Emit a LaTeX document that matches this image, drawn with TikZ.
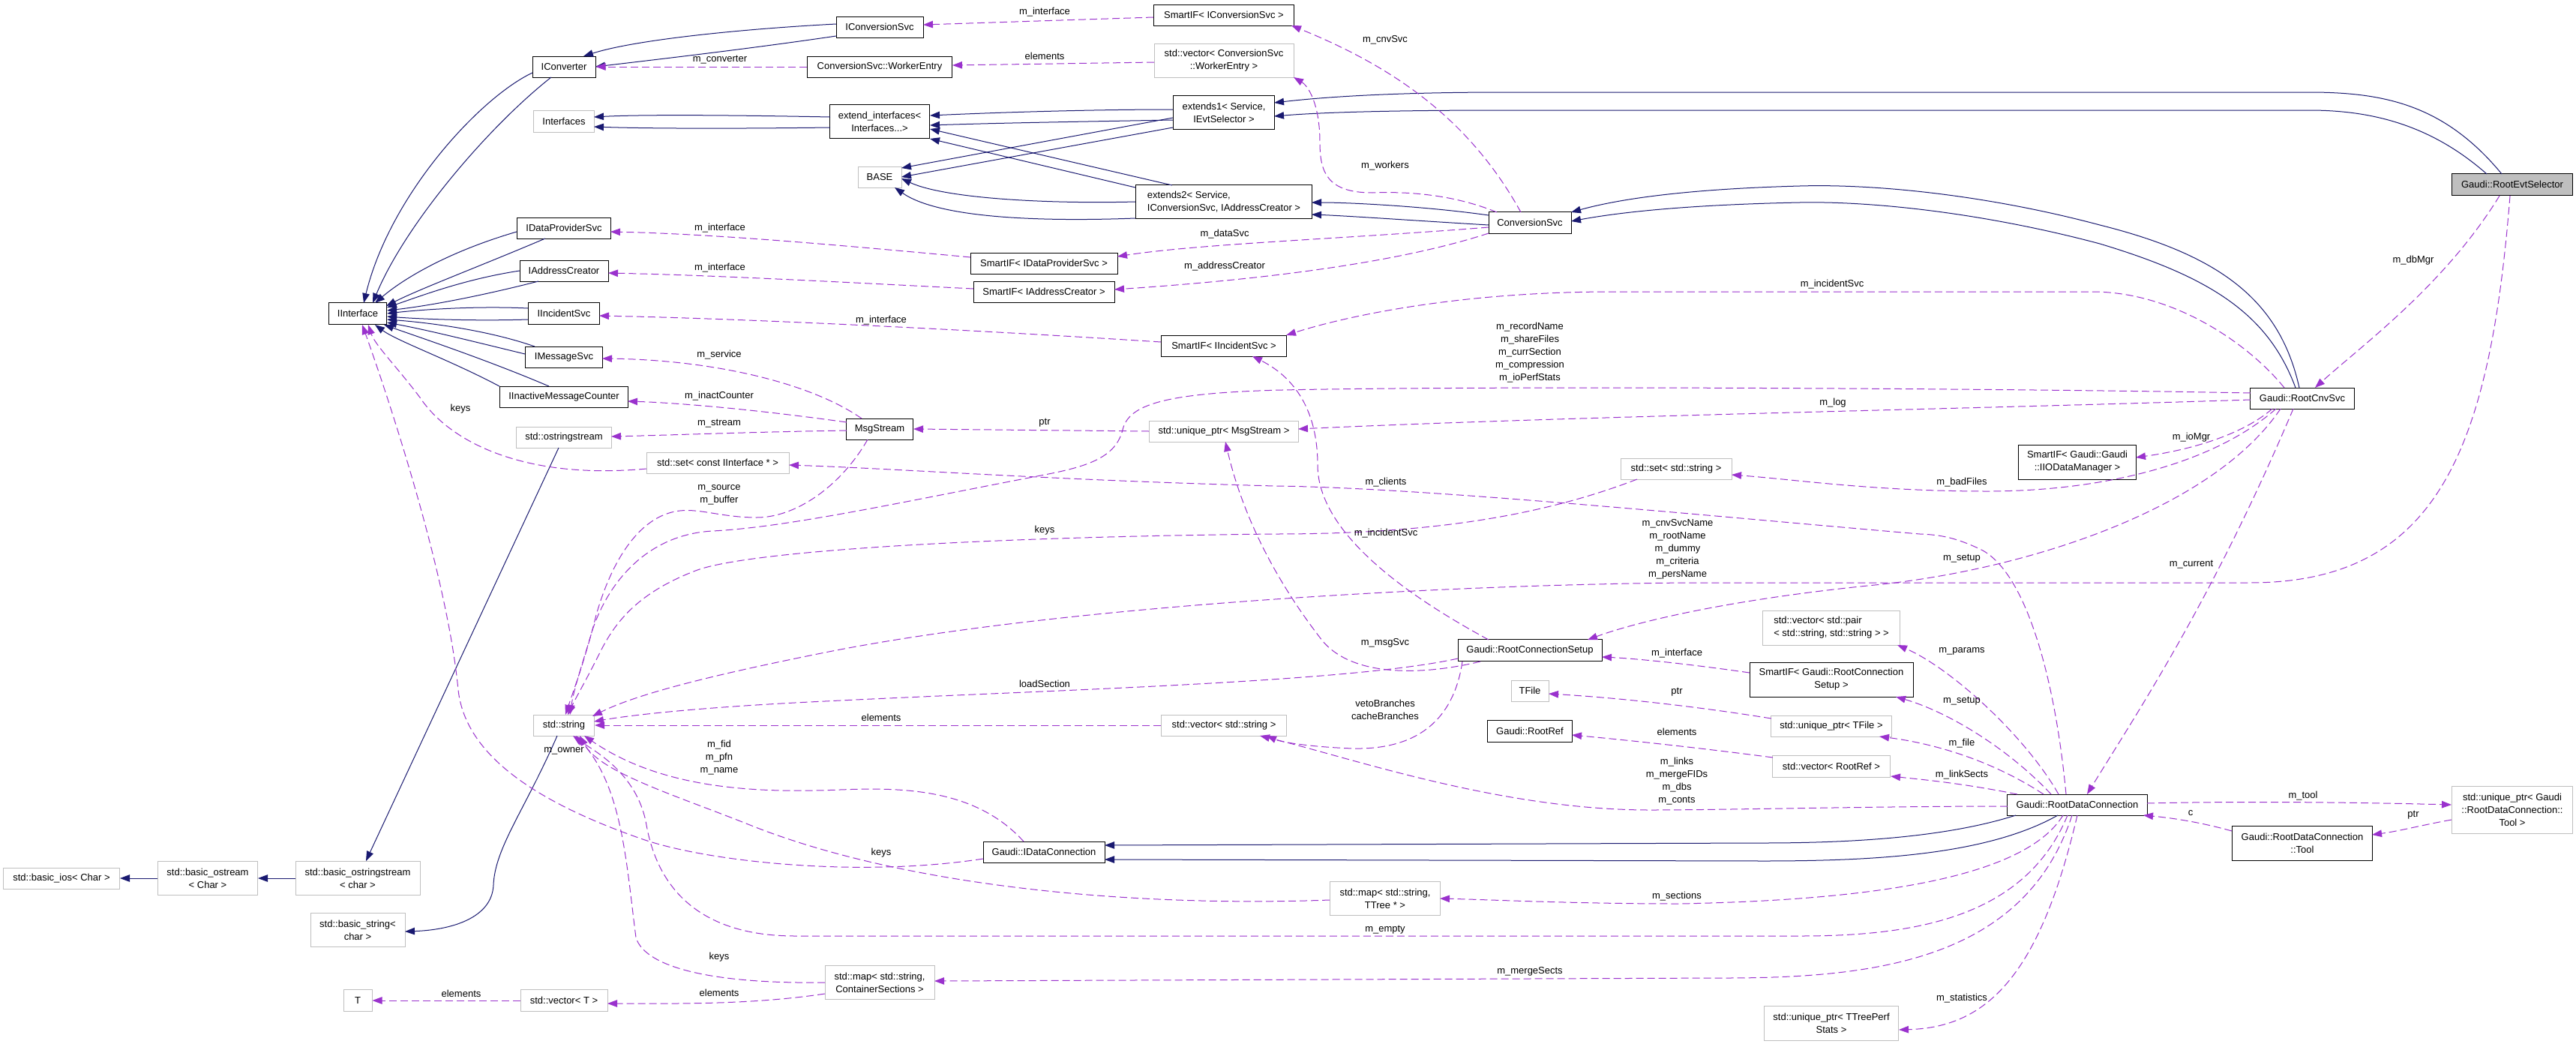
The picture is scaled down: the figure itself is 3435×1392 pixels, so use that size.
\documentclass[tikz,border=0pt]{standalone}
\usepackage{fontspec}
\setmainfont{Liberation Sans}
\usetikzlibrary{arrows.meta,calc}
\definecolor{inhc}{HTML}{191970}
\definecolor{usec}{HTML}{9A32CD}
\definecolor{greyb}{HTML}{BFBFBF}
\tikzset{
  every node/.style={font=\fontsize{13pt}{17pt}\selectfont},
  box/.style={draw=black, fill=white, line width=1pt, inner sep=0pt, align=center},
  gbox/.style={box, draw=greyb},
  mbox/.style={box, fill=greyb},
  sz/.style 2 args={minimum width=#1pt, minimum height=#2pt},
  lbl/.style={inner sep=0pt, align=center},
  inh/.style={draw=inhc, line width=1pt, -{Triangle[length=13pt,width=9.5pt]}},
  use/.style={draw=usec, line width=1pt, dash pattern=on 10pt off 5pt, -{Triangle[length=13pt,width=9.5pt]}}
}
\begin{document}
\begin{tikzpicture}[x=1pt,y=-1pt]
\path[fill=white,use as bounding box] (0,0) rectangle (3435,1392);
% ---------- nodes ----------
\node[mbox,sz={161}{29}] (evt) at (3350,246) {Gaudi::RootEvtSelector};
\node[box,sz={84}{28}] (conv1) at (752,89) {IConverter};
\node[gbox,sz={81}{29}] (ifaces) at (752,162) {Interfaces};
\node[box,sz={125}{28}] (idps) at (752,304) {IDataProviderSvc};
\node[box,sz={118}{28}] (iac) at (752,361) {IAddressCreator};
\node[box,sz={95}{29}] (iinc) at (752,418) {IIncidentSvc};
\node[box,sz={77}{29}] (iint) at (477,418) {IInterface};
\node[box,sz={103}{28}] (imsg) at (752,476) {IMessageSvc};
\node[box,sz={171}{28}] (iinact) at (752,529) {IInactiveMessageCounter};
\node[gbox,sz={127}{28}] (ostr) at (752,583) {std::ostringstream};
\node[box,sz={116}{28}] (iconvsvc) at (1173,36) {IConversionSvc};
\node[box,sz={193}{28}] (worker) at (1173,89) {ConversionSvc::WorkerEntry};
\node[box,sz={187}{28}] (smconv) at (1632,20) {SmartIF< IConversionSvc >};
\node[gbox,sz={186}{45}] (vecworker) at (1632,81) {std::vector< ConversionSvc\\::WorkerEntry >};
\node[box,sz={133}{45}] (extif) at (1173,162) {extend\_interfaces<\\Interfaces...>};
\node[box,sz={135}{45}] (ext1) at (1632,150) {extends1< Service,\\IEvtSelector >};
\node[gbox,sz={58}{28}] (base) at (1173,236) {BASE};
\node[box,sz={235}{45},align=left] (ext2) at (1632,269) {extends2< Service,\\ IConversionSvc, IAddressCreator >};
\node[box,sz={196}{28}] (smdps) at (1392,351) {SmartIF< IDataProviderSvc >};
\node[box,sz={188}{28}] (smac) at (1392,389) {SmartIF< IAddressCreator >};
\node[box,sz={167}{28}] (sminc) at (1632,461) {SmartIF< IIncidentSvc >};
\node[box,sz={110}{29}] (convsvc) at (2040,297) {ConversionSvc};
\node[box,sz={139}{28}] (cnvsvc) at (3070,531) {Gaudi::RootCnvSvc};
\node[box,sz={157}{46}] (smio) at (2770,616) {SmartIF< Gaudi::Gaudi\\::IIODataManager >};
\node[box,sz={89}{28}] (msg) at (1173,572) {MsgStream};
\node[gbox,sz={199}{28}] (upmsg) at (1632,575) {std::unique\_ptr< MsgStream >};
\node[gbox,sz={190}{28}] (setii) at (957,617) {std::set< const IInterface * >};
\node[gbox,sz={148}{28}] (setstr) at (2235,625) {std::set< std::string >};
\node[gbox,sz={183}{46},align=left] (vecpair) at (2442,837) {std::vector< std::pair\\< std::string, std::string > >};
\node[box,sz={192}{29}] (rcs) at (2040,867) {Gaudi::RootConnectionSetup};
\node[box,sz={218}{46}] (smrcs) at (2442,906) {SmartIF< Gaudi::RootConnection\\Setup >};
\node[gbox,sz={50}{28}] (tfile) at (2040,921) {TFile};
\node[gbox,sz={81}{28}] (str) at (752,967) {std::string};
\node[gbox,sz={155}{28}] (basicios) at (82,1171) {std::basic\_ios< Char >};
\node[gbox,sz={133}{45}] (basicostream) at (277,1171) {std::basic\_ostream\\< Char >};
\node[gbox,sz={166}{45}] (basicostrstr) at (477,1171) {std::basic\_ostringstream\\< char >};
\node[gbox,sz={126}{45}] (basicstr) at (477,1240) {std::basic\_string<\\char >};
\node[gbox,sz={38}{29}] (T) at (477,1334) {T};
\node[gbox,sz={116}{29}] (vecT) at (752,1334) {std::vector< T >};
\node[gbox,sz={167}{28}] (vecstr) at (1632,967) {std::vector< std::string >};
\node[box,sz={162}{28}] (idc) at (1392,1136) {Gaudi::IDataConnection};
\node[gbox,sz={146}{45}] (mapcs) at (1173,1310) {std::map< std::string,\\ContainerSections >};
\node[box,sz={113}{29}] (rootref) at (2040,975) {Gaudi::RootRef};
\node[gbox,sz={161}{28}] (uptfile) at (2442,968) {std::unique\_ptr< TFile >};
\node[gbox,sz={157}{29}] (vecrr) at (2442,1022) {std::vector< RootRef >};
\node[gbox,sz={147}{45}] (maptt) at (1847,1198) {std::map< std::string,\\TTree * >};
\node[gbox,sz={179}{46}] (uptts) at (2442,1364) {std::unique\_ptr< TTreePerf\\Stats >};
\node[box,sz={187}{28}] (rdc) at (2770,1073) {Gaudi::RootDataConnection};
\node[gbox,sz={161}{63}] (uptool) at (3350,1080) {std::unique\_ptr< Gaudi\\::RootDataConnection::\\Tool >};
\node[box,sz={187}{46}] (tool) at (3070,1124) {Gaudi::RootDataConnection\\::Tool};
% ---------- inheritance ----------
\draw[inh] ($(conv1.center)+(-42,8)$) .. controls (640,130) and (520,260) .. ($(iint.center)+(8,-14)$);
\draw[inh] ($(conv1.center)+(-17,14)$) .. controls (650,170) and (540,300) .. ($(iint.center)+(20,-14)$);
\draw[inh] ($(iconvsvc.center)+(-58,-4)$) .. controls (1000,38) and (850,52) .. ($(conv1.center)+(26,-14)$);
\draw[inh] ($(iconvsvc.center)+(-58,12)$) .. controls (1000,65) and (870,80) .. ($(conv1.center)+(42,0)$);
\draw[inh] ($(extif.center)+(-66,-6)$) .. controls (950,153) and (850,153) .. ($(ifaces.center)+(40,-6)$);
\draw[inh] ($(extif.center)+(-66,8)$) .. controls (950,172) and (850,171) .. ($(ifaces.center)+(40,7)$);
\draw[inh] ($(ext1.center)+(-68,-4)$) .. controls (1450,146) and (1330,150) .. ($(extif.center)+(67,-8)$);
\draw[inh] ($(ext1.center)+(-68,10)$) .. controls (1450,162) and (1330,164) .. ($(extif.center)+(67,5)$);
\draw[inh] ($(ext1.center)+(-68,7)$) -- ($(base.center)+(29,-12)$);
\draw[inh] ($(ext1.center)+(-68,20)$) -- ($(base.center)+(29,0)$);
\draw[inh] ($(ext2.center)+(-69,-22)$) -- ($(extif.center)+(67,10)$);
\draw[inh] ($(ext2.center)+(-118,-19)$) -- ($(extif.center)+(67,23)$);
\draw[inh] ($(ext2.center)+(-118,0)$) .. controls (1400,272) and (1260,265) .. ($(base.center)+(29,2)$);
\draw[inh] ($(ext2.center)+(-118,22)$) .. controls (1380,296) and (1250,290) .. ($(base.center)+(20,14)$);
\draw[inh] ($(evt.center)+(-14,-14)$) .. controls (3260,140) and (3180,123) .. (3079,123) -- (2007,123) .. controls (1850,123) and (1760,130) .. ($(ext1.center)+(67,-13)$);
\draw[inh] ($(evt.center)+(-34,-14)$) .. controls (3240,165) and (3160,147) .. (3079,147) -- (2007,147) .. controls (1850,147) and (1760,150) .. ($(ext1.center)+(67,5)$);
\draw[inh] ($(convsvc.center)+(-55,-10)$) .. controls (1900,275) and (1800,270) .. ($(ext2.center)+(117,1)$);
\draw[inh] ($(convsvc.center)+(-55,3)$) .. controls (1900,295) and (1800,288) .. ($(ext2.center)+(117,17)$);
\draw[inh] ($(cnvsvc.center)+(-4,-14)$) .. controls (3040,400) and (2960,340) .. (2800,300) .. controls (2650,260) and (2500,245) .. (2400,248) .. controls (2250,252) and (2160,265) .. ($(convsvc.center)+(55,-14)$);
\draw[inh] ($(cnvsvc.center)+(-9,-14)$) .. controls (3025,420) and (2950,370) .. (2800,325) .. controls (2650,285) and (2500,268) .. (2400,270) .. controls (2250,273) and (2160,283) .. ($(convsvc.center)+(55,-2)$);
\draw[inh] ($(idps.center)+(-63,5)$) .. controls (600,335) and (540,370) .. ($(iint.center)+(23,-14)$);
\draw[inh] ($(idps.center)+(-25,14)$) .. controls (640,355) and (560,385) .. ($(iint.center)+(38,-10)$);
\draw[inh] ($(iac.center)+(-59,0)$) .. controls (620,372) and (560,395) .. ($(iint.center)+(39,-8)$);
\draw[inh] ($(iac.center)+(-34,14)$) .. controls (640,395) and (570,408) .. ($(iint.center)+(39,-4)$);
\draw[inh] ($(iinc.center)+(-48,-7)$) .. controls (640,408) and (570,412) .. ($(iint.center)+(39,0)$);
\draw[inh] ($(iinc.center)+(-48,8)$) .. controls (640,428) and (570,426) .. ($(iint.center)+(39,4)$);
\draw[inh] ($(imsg.center)+(-39,-14)$) .. controls (650,440) and (570,430) .. ($(iint.center)+(39,8)$);
\draw[inh] ($(imsg.center)+(-52,-4)$) .. controls (630,455) and (570,440) .. ($(iint.center)+(39,12)$);
\draw[inh] ($(iinact.center)+(-86,-14)$) .. controls (600,480) and (530,455) .. ($(iint.center)+(23,15)$);
\draw[inh] ($(iinact.center)+(-20,-14)$) .. controls (650,480) and (560,450) .. ($(iint.center)+(35,15)$);
\draw[inh] ($(ostr.center)+(-7,14)$) -- ($(basicostrstr.center)+(11,-23)$);
\draw[inh] (basicostrstr.west) -- (basicostream.east);
\draw[inh] (basicostream.west) -- (basicios.east);
\draw[inh] ($(str.center)+(-9,14)$) .. controls (700,1080) and (660,1130) .. (658,1180) .. controls (656,1225) and (600,1240) .. ($(basicstr.center)+(63,2)$);
\draw[inh] ($(rdc.center)+(-82,14)$) .. controls (2600,1115) and (2480,1124) .. (2350,1124) -- ($(idc.center)+(81,-9)$);
\draw[inh] ($(rdc.center)+(-26,14)$) .. controls (2650,1140) and (2500,1148) .. (2350,1148) -- ($(idc.center)+(81,10)$);
% ---------- usage ----------
\draw[use] ($(smconv.center)+(-94,3)$) -- ($(iconvsvc.center)+(58,-3)$);
\draw[use] ($(vecworker.center)+(-93,2)$) -- ($(worker.center)+(97,-2)$);
\draw[use] (worker.west) -- (conv1.east);
\draw[use] ($(convsvc.center)+(-12,-14)$) .. controls (1960,160) and (1860,90) .. ($(smconv.center)+(90,14)$);
\draw[use] ($(convsvc.center)+(-44,-14)$) .. controls (1940,260) and (1880,255) .. (1830,257) .. controls (1770,257) and (1760,230) .. (1760,190) .. controls (1760,140) and (1745,115) .. ($(vecworker.center)+(93,22)$);
\draw[use] ($(smdps.center)+(-98,-8)$) .. controls (1100,325) and (950,312) .. ($(idps.center)+(62,5)$);
\draw[use] ($(smac.center)+(-94,-4)$) .. controls (1100,375) and (950,367) .. ($(iac.center)+(59,3)$);
\draw[use] ($(convsvc.center)+(-55,6)$) .. controls (1800,318) and (1600,325) .. ($(smdps.center)+(98,-9)$);
\draw[use] ($(convsvc.center)+(-55,14)$) .. controls (1850,355) and (1650,375) .. ($(smac.center)+(94,-3)$);
\draw[use] ($(sminc.center)+(-84,-5)$) .. controls (1300,440) and (1000,425) .. ($(iinc.center)+(47,3)$);
\draw[use] ($(cnvsvc.center)+(-24,-14)$) .. controls (3000,460) and (2900,389) .. (2790,389) -- (2150,389) .. controls (1950,389) and (1800,420) .. ($(sminc.center)+(83,-14)$);
\draw[use] ($(msg.center)+(-24,-14)$) .. controls (1080,510) and (950,480) .. ($(imsg.center)+(51,2)$);
\draw[use] ($(msg.center)+(-44,-9)$) .. controls (1000,545) and (900,537) .. ($(iinact.center)+(85,6)$);
\draw[use] ($(msg.center)+(-44,2)$) .. controls (1000,576) and (900,580) .. ($(ostr.center)+(63,-1)$);
\draw[use] (upmsg.west) -- (msg.east);
\draw[use] ($(cnvsvc.center)+(-69,2)$) .. controls (2600,546) and (2100,555) .. ($(upmsg.center)+(99,-3)$);
\draw[use] ($(cnvsvc.center)+(-69,-7)$) .. controls (2700,518) and (2000,514) .. (1710,520) .. controls (1550,524) and (1505,540) .. (1497,573) .. controls (1488,610) and (1450,622) .. (1393,633) .. controls (1200,670) and (1050,703) .. (950,708) .. controls (860,713) and (810,780) .. (790,840) .. controls (775,890) and (765,920) .. ($(str.center)+(8,-14)$);
\draw[use] ($(setii.center)+(-95,8)$) .. controls (700,640) and (600,590) .. (560,530) .. controls (530,490) and (500,460) .. ($(iint.center)+(14,15)$);
\draw[use] ($(rdc.center)+(-15,-14)$) .. controls (2740,900) and (2700,760) .. (2640,732) .. controls (2610,718) and (2590,713) .. (2560,712) .. controls (2300,690) and (1900,650) .. (1700,648) .. controls (1400,640) and (1200,625) .. ($(setii.center)+(95,3)$);
\draw[use] ($(msg.center)+(-16,14)$) .. controls (1120,650) and (1060,690) .. (1009,690) .. controls (960,690) and (930,676) .. (900,682) .. controls (850,692) and (815,750) .. (795,820) .. controls (780,880) and (765,920) .. ($(str.center)+(2,-14)$);
\draw[use] ($(cnvsvc.center)+(-35,14)$) .. controls (2950,620) and (2800,655) .. (2650,655) .. controls (2500,655) and (2400,640) .. ($(setstr.center)+(74,8)$);
\draw[use] ($(setstr.center)+(-52,14)$) .. controls (2050,690) and (1900,712) .. (1700,712) .. controls (1300,716) and (1000,735) .. (930,760) .. controls (850,790) and (820,830) .. (800,870) .. controls (780,910) and (768,930) .. ($(str.center)+(5,-14)$);
\draw[use] ($(rcs.center)+(-55,-14)$) .. controls (1850,780) and (1757,700) .. (1757,620) .. controls (1757,540) and (1720,500) .. ($(sminc.center)+(38,14)$);
\draw[use] ($(rcs.center)+(-66,15)$) .. controls (1900,900) and (1800,905) .. (1760,850) .. controls (1710,785) and (1660,700) .. ($(upmsg.center)+(2,14)$);
\draw[use] ($(cnvsvc.center)+(-29,14)$) .. controls (2950,680) and (2700,760) .. (2500,780) .. controls (2300,800) and (2180,830) .. ($(rcs.center)+(77,-14)$);
\draw[use] ($(evt.center)+(-3,15)$) .. controls (3320,600) and (3250,777) .. (3000,777) -- (2250,777) .. controls (1900,780) and (1400,810) .. (1100,870) .. controls (950,900) and (850,925) .. ($(str.center)+(38,-12)$);
\draw[use] ($(evt.center)+(-17,15)$) .. controls (3260,380) and (3150,460) .. ($(cnvsvc.center)+(17,-14)$);
\draw[use] ($(cnvsvc.center)+(-12,14)$) .. controls (2950,800) and (2850,950) .. ($(rdc.center)+(13,-14)$);
\draw[use] ($(cnvsvc.center)+(-40,14)$) .. controls (2990,580) and (2920,600) .. ($(smio.center)+(78,-6)$);
\draw[use] ($(rdc.center)+(-25,-14)$) .. controls (2700,980) and (2600,890) .. ($(vecpair.center)+(88,23)$);
\draw[use] ($(rdc.center)+(-35,-14)$) .. controls (2680,1000) and (2600,950) .. ($(smrcs.center)+(86,23)$);
\draw[use] ($(smrcs.center)+(-109,-9)$) .. controls (2250,885) and (2180,878) .. ($(rcs.center)+(96,9)$);
\draw[use] ($(rcs.center)+(-96,11)$) .. controls (1800,910) and (1400,920) .. (1100,935) .. controls (950,942) and (850,952) .. ($(str.center)+(40,-5)$);
\draw[use] ($(rcs.center)+(-90,15)$) .. controls (1940,950) and (1900,1000) .. (1804,998) .. controls (1750,996) and (1710,990) .. ($(vecstr.center)+(57,14)$);
\draw[use] (vecstr.west) -- (str.east);
\draw[use] ($(uptfile.center)+(-80,-10)$) .. controls (2250,940) and (2150,930) .. ($(tfile.center)+(25,4)$);
\draw[use] ($(rdc.center)+(-45,-14)$) .. controls (2650,1010) and (2570,990) .. ($(uptfile.center)+(64,14)$);
\draw[use] ($(vecrr.center)+(-78,-12)$) .. controls (2250,995) and (2150,985) .. ($(rootref.center)+(56,5)$);
\draw[use] ($(rdc.center)+(-80,-14)$) .. controls (2620,1045) and (2570,1040) .. ($(vecrr.center)+(79,13)$);
\draw[use] ($(rdc.center)+(-93,2)$) .. controls (2500,1075) and (2300,1080) .. (2200,1080) .. controls (2000,1080) and (1800,1010) .. ($(vecstr.center)+(48,14)$);
\draw[use] ($(rdc.center)+(93,-2)$) .. controls (3000,1068) and (3150,1070) .. ($(uptool.center)+(-81,-7)$);
\draw[use] ($(tool.center)+(-94,-16)$) .. controls (2930,1095) and (2890,1090) .. ($(rdc.center)+(88,14)$);
\draw[use] ($(uptool.center)+(-81,13)$) .. controls (3230,1100) and (3200,1108) .. ($(tool.center)+(93,-11)$);
\draw[use] ($(idc.center)+(-27,-14)$) .. controls (1300,1050) and (1200,1050) .. (1120,1053) .. controls (1000,1058) and (880,1050) .. ($(str.center)+(27,14)$);
\draw[use] ($(idc.center)+(-81,9)$) .. controls (1150,1170) and (950,1150) .. (860,1120) .. controls (700,1065) and (620,1000) .. (611,920) .. controls (595,750) and (500,480) .. ($(iint.center)+(6,15)$);
\draw[use] ($(maptt.center)+(-74,2)$) .. controls (1500,1210) and (1200,1180) .. (1000,1100) .. controls (900,1060) and (800,1030) .. ($(str.center)+(21,14)$);
\draw[use] ($(mapcs.center)+(-73,0)$) .. controls (950,1312) and (860,1290) .. (848,1250) .. controls (835,1150) and (830,1050) .. ($(str.center)+(16,14)$);
\draw[use] ($(mapcs.center)+(-73,15)$) .. controls (1000,1340) and (900,1338) .. ($(vecT.center)+(58,4)$);
\draw[use] (vecT.west) -- (T.east);
\draw[use] ($(rdc.center)+(-19,14)$) .. controls (2700,1170) and (2500,1200) .. (2240,1205) .. controls (2100,1205) and (2000,1200) .. ($(maptt.center)+(73,0)$);
\draw[use] ($(rdc.center)+(-13,14)$) .. controls (2700,1225) and (2550,1248) .. (2400,1248) -- (1060,1248) .. controls (950,1248) and (880,1200) .. (862,1100) .. controls (850,1030) and (790,1000) .. ($(str.center)+(12,14)$);
\draw[use] ($(rdc.center)+(-7,14)$) .. controls (2700,1280) and (2500,1304) .. (2300,1304) -- ($(mapcs.center)+(73,-2)$);
\draw[use] ($(rdc.center)+(0,14)$) .. controls (2720,1300) and (2650,1370) .. ($(uptts.center)+(90,9)$);
% ---------- labels ----------
\node[lbl] (la1) at (1393,16) {m\_interface};
\node[lbl] (la2) at (1393,75) {elements};
\node[lbl] (la3) at (960,80) {m\_converter};
\node[lbl] (la4) at (1847,53) {m\_cnvSvc};
\node[lbl] (la5) at (1847,221) {m\_workers};
\node[lbl] (la6) at (960,304) {m\_interface};
\node[lbl] (la7) at (1633,312) {m\_dataSvc};
\node[lbl] (la8) at (960,357) {m\_interface};
\node[lbl] (la9) at (1633,355) {m\_addressCreator};
\node[lbl] (la10) at (1175,427) {m\_interface};
\node[lbl] (la11) at (2443,379) {m\_incidentSvc};
\node[lbl] (la12) at (3218,347) {m\_dbMgr};
\node[lbl] (la13) at (959,473) {m\_service};
\node[lbl] (la14) at (959,528) {m\_inactCounter};
\node[lbl] (la15) at (959,565) {m\_stream};
\node[lbl] (la16) at (1393,564) {ptr};
\node[lbl] (la17) at (614,545) {keys};
\node[lbl] (la18) at (2040,470) {m\_recordName\\m\_shareFiles\\m\_currSection\\m\_compression\\m\_ioPerfStats};
\node[lbl] (la19) at (2444,537) {m\_log};
\node[lbl] (la20) at (2922,583) {m\_ioMgr};
\node[lbl] (la21) at (2616,643) {m\_badFiles};
\node[lbl] (la22) at (1848,643) {m\_clients};
\node[lbl] (la23) at (959,660) {m\_source\\m\_buffer};
\node[lbl] (la24) at (1393,707) {keys};
\node[lbl] (la25) at (1848,711) {m\_incidentSvc};
\node[lbl] (la26) at (2237,732) {m\_cnvSvcName\\m\_rootName\\m\_dummy\\m\_criteria\\m\_persName};
\node[lbl] (la27) at (2616,745) {m\_setup};
\node[lbl] (la28) at (2922,753) {m\_current};
\node[lbl] (la29) at (1847,857) {m\_msgSvc};
\node[lbl] (la30) at (2616,868) {m\_params};
\node[lbl] (la31) at (2236,871) {m\_interface};
\node[lbl] (la32) at (1393,912) {loadSection};
\node[lbl] (la33) at (2236,923) {ptr};
\node[lbl] (la34) at (2616,935) {m\_setup};
\node[lbl] (la35) at (1847,946) {vetoBranches\\cacheBranches};
\node[lbl] (la36) at (1175,957) {elements};
\node[lbl] (la37) at (2236,976) {elements};
\node[lbl] (la38) at (2616,991) {m\_file};
\node[lbl] (la39) at (752,1001) {m\_owner};
\node[lbl] (la40) at (959,1010) {m\_fid\\m\_pfn\\m\_name};
\node[lbl] (la41) at (2236,1042) {m\_links\\m\_mergeFIDs\\m\_dbs\\m\_conts};
\node[lbl] (la42) at (2616,1033) {m\_linkSects};
\node[lbl] (la43) at (3071,1061) {m\_tool};
\node[lbl] (la44) at (2921,1084) {c};
\node[lbl] (la45) at (3218,1087) {ptr};
\node[lbl] (la46) at (1175,1137) {keys};
\node[lbl] (la47) at (2236,1195) {m\_sections};
\node[lbl] (la48) at (1847,1240) {m\_empty};
\node[lbl] (la49) at (959,1276) {keys};
\node[lbl] (la50) at (2040,1295) {m\_mergeSects};
\node[lbl] (la51) at (959,1324) {elements};
\node[lbl] (la52) at (615,1325) {elements};
\node[lbl] (la53) at (2616,1331) {m\_statistics};
\end{tikzpicture}
\end{document}
